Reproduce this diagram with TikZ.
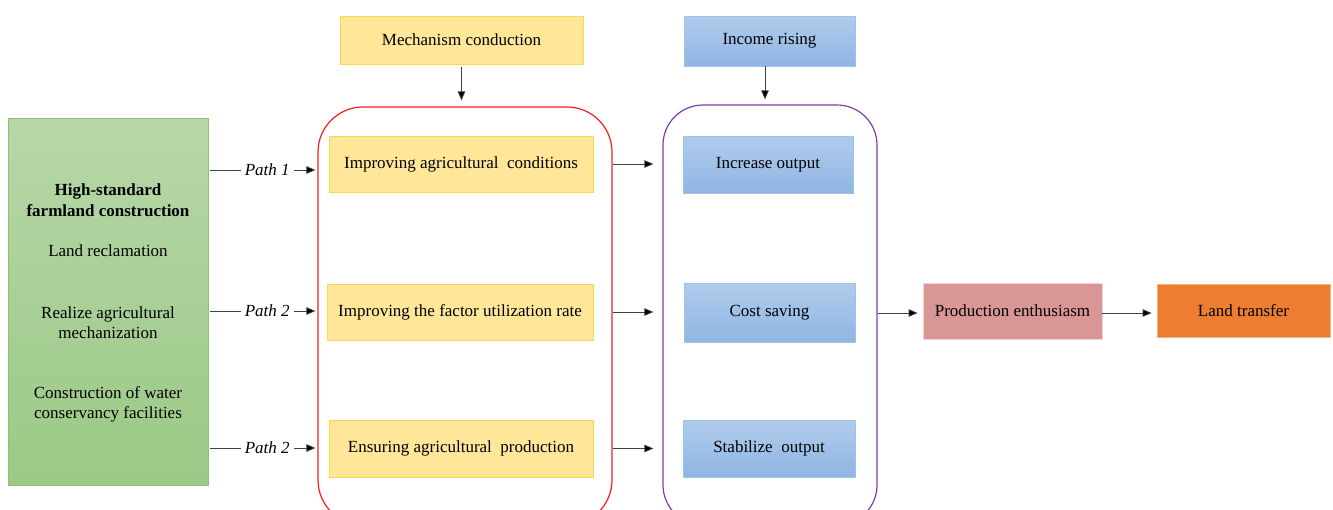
\documentclass[tikz,border=0pt]{standalone}
\usepackage{fontspec}
\setmainfont{Liberation Serif}
\usetikzlibrary{arrows.meta}
\definecolor{gtop}{RGB}{183,215,168}
\definecolor{gbot}{RGB}{155,201,134}
\definecolor{gline}{RGB}{140,195,112}
\definecolor{yfill}{RGB}{255,230,153}
\definecolor{yline}{RGB}{255,214,80}
\definecolor{btop}{RGB}{176,204,236}
\definecolor{bbot}{RGB}{143,181,227}
\definecolor{bline}{RGB}{157,195,230}
\definecolor{pfill}{RGB}{218,150,148}
\definecolor{pline}{RGB}{242,212,211}
\definecolor{ofill}{RGB}{237,125,49}
\definecolor{oline}{RGB}{244,177,131}
\definecolor{redc}{RGB}{245,30,30}
\definecolor{purc}{RGB}{125,60,175}
\begin{document}
\begin{tikzpicture}[x=1pt,y=-1pt,
  base/.style={inner sep=0pt, align=center, font=\fontsize{17}{20.5}\selectfont},
  yel/.style={base, fill=yfill, draw=yline, line width=0.8pt},
  blu/.style={base, top color=btop, bottom color=bbot, draw=bline, line width=0.8pt},
  arr/.style={draw=black!75, line width=0.8pt, -{Triangle[length=9pt,width=7.5pt,fill=black]}},
  pathlbl/.style={fill=white, inner xsep=4pt, inner ysep=2pt, font=\fontsize{17}{20}\selectfont\itshape}]
\useasboundingbox (0,0) rectangle (1333,509);
% top boxes
\node[yel, minimum width=243pt, minimum height=48pt] (mech) at (461.5,40) {Mechanism conduction};
\node[blu, minimum width=171pt, minimum height=50pt] (inc) at (769.5,41) {Income rising};
% left box
\node[draw=gline, top color=gtop, bottom color=gbot, line width=0.8pt, inner sep=0pt,
      minimum width=200pt, minimum height=367pt] (hsfc) at (108,301.5) {};
\node[base, font=\fontsize{17}{20.5}\selectfont\bfseries] (t1) at (108,200) {High-standard\\farmland construction};
\node[base] (t2) at (108,251) {Land reclamation};
\node[base] (t3) at (108,322.5) {Realize agricultural\\mechanization};
\node[base] (t4) at (108,404.5) {Construction of water\\conservancy facilities};
% containers
\begin{scope}
\clip (0,0) rectangle (1333,509);
\node[draw=redc, line width=1.2pt, rounded corners=45pt, inner sep=0pt,
      minimum width=294pt, minimum height=418pt] (mc) at (465,316) {};
\node[draw=purc, line width=1.2pt, rounded corners=40pt, inner sep=0pt,
      minimum width=214pt, minimum height=420pt] (pc) at (770,315) {};
\end{scope}
% yellow boxes
\node[yel, minimum width=264pt, minimum height=56pt] (y1) at (461,164) {Improving agricultural~ conditions};
\node[yel, minimum width=266pt, minimum height=56pt] (y2) at (460,312) {Improving the factor utilization rate};
\node[yel, minimum width=264pt, minimum height=57pt] (y3) at (461,448.5) {Ensuring agricultural~ production};
% blue boxes
\node[blu, minimum width=170pt, minimum height=57pt] (b1) at (768,164.5) {Increase output};
\node[blu, minimum width=171pt, minimum height=59pt] (b2) at (769.5,312.5) {Cost saving};
\node[blu, minimum width=172pt, minimum height=57pt] (b3) at (769,448.5) {Stabilize~ output};
% right boxes
\node[base, fill=pfill, draw=pline, line width=0.8pt, minimum width=179pt, minimum height=56pt] (pe) at (1012.5,311) {Production enthusiasm};
\node[base, fill=ofill, draw=oline, line width=0.8pt, minimum width=173pt, minimum height=53pt] (lt) at (1243.5,310.5) {Land transfer};
% connectors
\coordinate (r1) at (0,170);
\coordinate (r2) at (0,311);
\coordinate (r3) at (0,448);
\draw[arr, shorten <=2pt, shorten >=2pt] (hsfc.east |- r1) -- node[pathlbl, pos=0.54] (p1) {Path 1} (mc.west |- r1);
\draw[arr, shorten <=2pt, shorten >=2pt] (hsfc.east |- r2) -- node[pathlbl, pos=0.54] (p2) {Path 2} (mc.west |- r2);
\draw[arr, shorten <=2pt, shorten >=2pt] (hsfc.east |- r3) -- node[pathlbl, pos=0.54] (p3) {Path 2} (mc.west |- r3);
\draw[arr, shorten >=9pt] (mc.east |- y1) -- (pc.west |- y1);
\draw[arr, shorten >=9pt] (mc.east |- y2) -- (pc.west |- y2);
\draw[arr, shorten >=9pt] (mc.east |- y3) -- (pc.west |- y3);
\draw[arr, shorten <=3pt, shorten >=6pt] (mech.south) -- (mech.south |- mc.north);
\coordinate (ia) at (765,66);
\draw[arr, shorten >=5pt] (ia) -- (ia |- pc.north);
\coordinate (pa) at (0,313);
\draw[arr, shorten >=5pt] (pc.east |- pa) -- (pe.west |- pa);
\draw[arr, shorten >=5pt] (pe.east |- pa) -- (lt.west |- pa);
\end{tikzpicture}
\end{document}
